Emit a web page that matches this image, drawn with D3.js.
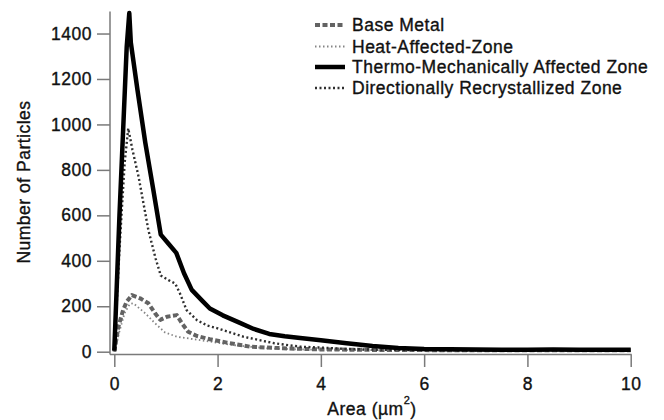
<!DOCTYPE html>
<html>
<head>
<meta charset="utf-8">
<script src="https://cdn.jsdelivr.net/npm/d3@7"></script>
<style>
  html, body { margin: 0; padding: 0; background: #fff; }
  #chart text {
    font-family: "Liberation Sans", Arial, sans-serif;
    fill: #111; stroke: #111; stroke-width: 0.35px;
    letter-spacing: 0.5px;
  }
</style>
</head>
<body>
<div id="chart"></div>
<script>
  // values
  const xTicks = [0, 2, 4, 6, 8, 10];
  const yTicks = [0, 200, 400, 600, 800, 1000, 1200, 1400];

  const bmArea  = [0, 0.08, 0.17, 0.24, 0.34, 0.5, 0.66, 0.79, 0.89, 1.02, 1.21, 1.31, 1.43, 1.6, 1.85, 2.18, 2.63, 3.27, 4.0, 5, 6, 7, 8, 9, 10];
  const bmCount = [0, 110, 183, 220, 249, 235, 213, 169, 140, 154, 161, 125, 88, 69, 55, 40, 22, 15, 10, 8, 7, 6, 6, 6, 6];

  const hazArea  = [0, 0.1, 0.2, 0.3, 0.37, 0.6, 0.79, 0.98, 1.21, 1.66, 2.3, 2.95, 3.6, 4.5, 5.5, 7, 8.5, 10];
  const hazCount = [0, 90, 170, 210, 213, 169, 125, 85, 66, 51, 29, 15, 10, 7, 6, 5, 5, 5];

  const tmazArea  = [0, 0.1, 0.24, 0.29, 0.32, 0.45, 0.6, 0.75, 0.9, 1.05, 1.2, 1.35, 1.5, 1.7, 1.85, 2.1, 2.4, 2.7, 3.0, 3.3, 3.6, 4.0, 4.5, 5.0, 5.5, 6.0, 6.5, 7.0, 7.5, 8.0, 8.5, 9.0, 9.5, 10];
  const tmazCount = [5, 600, 1340, 1490, 1360, 1150, 920, 720, 515, 475, 435, 345, 272, 225, 190, 160, 130, 100, 78, 68, 60, 50, 37, 25, 16, 12, 11, 10, 9, 9, 10, 9, 9, 9];

  const drzArea  = [0, 0.1, 0.2, 0.27, 0.35, 0.47, 0.66, 0.8, 0.9, 1.05, 1.18, 1.27, 1.4, 1.6, 1.8, 2.0, 2.5, 3.1, 3.6, 4.0, 4.5, 5, 6, 7, 8, 9, 10];
  const drzCount = [5, 450, 830, 983, 890, 770, 535, 410, 335, 315, 300, 257, 183, 139, 115, 103, 66, 37, 22, 18, 12, 9, 7, 6, 6, 6, 6];

  const series = [
    { name: "Base Metal", area: bmArea, count: bmCount, color: "#636363", width: 4, dash: "5,2.5" },
    { name: "Heat-Affected-Zone", area: hazArea, count: hazCount, color: "#858585", width: 1.8, dash: "1.5,2.5" },
    { name: "Thermo-Mechanically Affected Zone", area: tmazArea, count: tmazCount, color: "#000", width: 4.5, dash: null },
    { name: "Directionally Recrystallized Zone", area: drzArea, count: drzCount, color: "#2e2e2e", width: 2.4, dash: "2,2.5" }
  ];

  const width = 664, height = 420;
  const fontSize = "17.5px";

  const svg = d3.select("#chart").append("svg")
    .attr("width", width)
    .attr("height", height);

  const x = d3.scaleLinear().domain([0, 10]).range([114.3, 630.7]);
  const y = d3.scaleLinear().domain([0, 1500]).range([351.7, 10.8]);

  const axisColor = "#7a7a7a";
  const axisX = 110, axisY = 354.5;

  // left axis
  const gy = svg.append("g")
    .attr("transform", `translate(${axisX},0)`)
    .call(d3.axisLeft(y).tickValues(yTicks).tickFormat(d3.format("d"))
      .tickSize(13).tickPadding(5).tickSizeOuter(0));
  gy.select(".domain").remove();
  gy.selectAll(".tick line").attr("stroke", axisColor).attr("stroke-width", 1.5);
  gy.selectAll(".tick text").style("font-size", fontSize);

  // bottom axis
  const gx = svg.append("g")
    .attr("transform", `translate(0,${axisY})`)
    .call(d3.axisBottom(x).tickValues(xTicks).tickFormat(d3.format("d"))
      .tickSize(12.5).tickPadding(11).tickSizeOuter(0));
  gx.select(".domain").remove();
  gx.selectAll(".tick line").attr("stroke", axisColor).attr("stroke-width", 1.5);
  gx.selectAll(".tick text").style("font-size", fontSize);

  // axis lines (offset from the data origin)
  svg.append("line")
    .attr("x1", axisX).attr("x2", axisX)
    .attr("y1", 11.5).attr("y2", axisY)
    .attr("stroke", axisColor).attr("stroke-width", 1.5);
  svg.append("line")
    .attr("x1", axisX).attr("x2", x(10) + 1)
    .attr("y1", axisY).attr("y2", axisY)
    .attr("stroke", axisColor).attr("stroke-width", 1.5);

  // axis titles
  svg.append("text")
    .attr("transform", "translate(30,182) rotate(-90)")
    .attr("text-anchor", "middle")
    .style("font-size", fontSize)
    .text("Number of Particles");

  const xt = svg.append("text")
    .attr("x", 372).attr("y", 415)
    .attr("text-anchor", "middle")
    .style("font-size", fontSize);
  xt.append("tspan").text("Area (µm");
  xt.append("tspan").attr("dy", -11).style("font-size", "11px").text("2");
  xt.append("tspan").attr("dy", 11).text(")");

  // curves
  const line = d3.line()
    .x(d => x(d[0]))
    .y(d => y(d[1]));

  const drawOrder = [1, 0, 3, 2];
  for (const i of drawOrder) {
    const s = series[i];
    const pts = s.area.map((a, k) => [a, s.count[k]]);
    svg.append("path")
      .datum(pts)
      .attr("fill", "none")
      .attr("stroke", s.color)
      .attr("stroke-width", s.width)
      .attr("stroke-dasharray", s.dash)
      .attr("stroke-linejoin", "round")
      .attr("d", line);
  }

  // legend
  const legendY = [25, 46.5, 67, 88];
  const legend = svg.append("g");
  series.forEach((s, i) => {
    legend.append("line")
      .attr("x1", 315).attr("x2", 345)
      .attr("y1", legendY[i]).attr("y2", legendY[i])
      .attr("stroke", s.color)
      .attr("stroke-width", s.width)
      .attr("stroke-dasharray", s.dash);
    legend.append("text")
      .attr("x", 352).attr("y", legendY[i])
      .attr("dy", "0.36em")
      .style("font-size", fontSize)
      .text(s.name);
  });
</script>
</body>
</html>
